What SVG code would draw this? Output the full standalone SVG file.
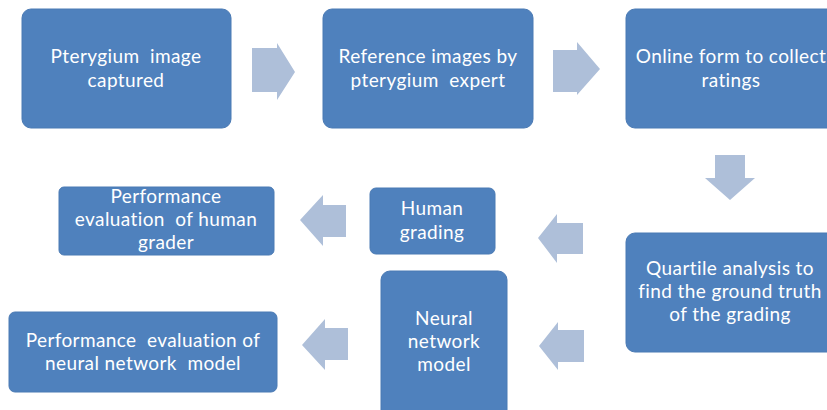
<svg xmlns="http://www.w3.org/2000/svg" width="827" height="410" viewBox="0 0 827 410">
  <style>
    .box { fill: #4F81BD; stroke: #4A7AB4; stroke-width: 1; }
    .lbl { font-family: Lato, "Open Sans", sans-serif; font-size: 19px; letter-spacing: 0.4px; fill: #FFFFFF; text-anchor: middle; white-space: pre; }
    .arr { fill: #AEBFD9; }
  </style>
  <rect width="827" height="410" fill="#FFFFFF"/>

  <g id="n-captured">
    <rect class="box" x="22" y="9" width="209" height="119" rx="9"/>
    <text class="lbl" x="126" y="63">Pterygium  image</text>
    <text class="lbl" x="126" y="87">captured</text>
  </g>
  <g id="n-reference">
    <rect class="box" x="323" y="9" width="210" height="119" rx="9"/>
    <text class="lbl" x="428" y="63">Reference images by</text>
    <text class="lbl" x="428" y="87">pterygium  expert</text>
  </g>
  <g id="n-online">
    <rect class="box" x="626" y="9" width="215" height="119" rx="9"/>
    <text class="lbl" x="731" y="63">Online form to collect</text>
    <text class="lbl" x="731" y="87">ratings</text>
  </g>
  <g id="n-quartile">
    <rect class="box" x="626" y="233" width="215" height="119" rx="9"/>
    <text class="lbl" x="730" y="275">Quartile analysis to</text>
    <text class="lbl" x="730" y="298">find the ground truth</text>
    <text class="lbl" x="730" y="321">of the grading</text>
  </g>
  <g id="n-human">
    <rect class="box" x="370" y="188" width="125" height="66" rx="6"/>
    <text class="lbl" x="432" y="215">Human</text>
    <text class="lbl" x="432" y="239">grading</text>
  </g>
  <g id="n-neural">
    <rect class="box" x="381" y="271" width="126" height="150" rx="9"/>
    <text class="lbl" x="444" y="325">Neural</text>
    <text class="lbl" x="444" y="348">network</text>
    <text class="lbl" x="444" y="371">model</text>
  </g>
  <g id="n-eval-human">
    <rect class="box" x="59" y="187" width="215" height="68" rx="5"/>
    <text class="lbl" x="166" y="203">Performance</text>
    <text class="lbl" x="166" y="226">evaluation  of human</text>
    <text class="lbl" x="166" y="249">grader</text>
  </g>
  <g id="n-eval-neural">
    <rect class="box" x="9" y="312" width="268" height="80" rx="6"/>
    <text class="lbl" x="143" y="347">Performance  evaluation of</text>
    <text class="lbl" x="143" y="370">neural network  model</text>
  </g>

  <g id="connectors">
    <!-- right-pointing block arrows -->
    <polygon class="arr" points="252,48 277,48 277,43 295,72 277,100 277,92 252,92"/>
    <polygon class="arr" points="553,50 577,50 577,42 600,69 577,95 577,92 553,92"/>
    <!-- down arrow -->
    <polygon class="arr" points="715,155 745,155 745,178 755,178 730,200 705,178 715,178"/>
    <!-- left-pointing block arrows -->
    <polygon class="arr" points="583,223 557,223 557,214 538,238 557,263 557,254 583,254"/>
    <polygon class="arr" points="584,330 558,330 558,322 539,346 558,370 558,362 584,362"/>
    <polygon class="arr" points="346,205 323,205 323,195 300,220 323,246 323,237 346,237"/>
    <polygon class="arr" points="348,328 325,328 325,319 302,345 325,370 325,360 348,360"/>
  </g>
</svg>
